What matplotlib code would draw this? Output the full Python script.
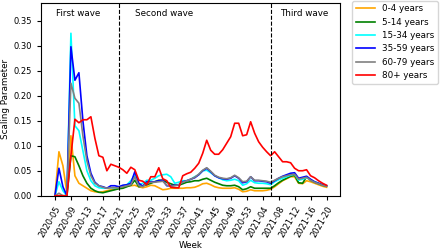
import numpy as np
import matplotlib
matplotlib.use("Agg")
import matplotlib.pyplot as plt

# weekly labels 2020-05 .. 2021-20 (2020 has 53 weeks)
weeks = [f"2020-{w:02d}" for w in range(5, 54)] + [f"2021-{w:02d}" for w in range(1, 21)]

age_0_4 = [0, 0.088, 0.06, 0.005, 0.12, 0.04, 0.025, 0.02, 0.015, 0.01,
           0.008, 0.007, 0.008, 0.01, 0.012, 0.013, 0.015, 0.016, 0.019, 0.02,
           0.021, 0.018, 0.016, 0.018, 0.021, 0.02, 0.016, 0.012, 0.013, 0.015,
           0.015, 0.015, 0.015, 0.016, 0.016, 0.017, 0.02, 0.024, 0.025, 0.022,
           0.018, 0.016, 0.015, 0.015, 0.015, 0.016, 0.013, 0.008, 0.009, 0.012,
           0.01, 0.01, 0.01, 0.011, 0.013, 0.018, 0.024, 0.03, 0.034, 0.038,
           0.038, 0.025, 0.024, 0.03, 0.028, 0.025, 0.022, 0.019, 0.017]
age_5_14 = [0, 0, 0, 0, 0.08, 0.078, 0.06, 0.04, 0.025, 0.015,
            0.01, 0.007, 0.006, 0.008, 0.01, 0.012, 0.014, 0.015, 0.018, 0.021,
            0.031, 0.018, 0.02, 0.022, 0.025, 0.028, 0.031, 0.031, 0.027, 0.024,
            0.021, 0.021, 0.024, 0.027, 0.028, 0.03, 0.03, 0.033, 0.035, 0.031,
            0.027, 0.024, 0.021, 0.02, 0.02, 0.021, 0.018, 0.012, 0.014, 0.018,
            0.015, 0.015, 0.015, 0.015, 0.015, 0.02, 0.026, 0.031, 0.035, 0.039,
            0.041, 0.026, 0.025, 0.038, 0.031, 0.027, 0.024, 0.021, 0.019]
age_15_34 = [0, 0.028, 0.01, 0, 0.325, 0.14, 0.13, 0.09, 0.05, 0.03,
             0.02, 0.016, 0.015, 0.015, 0.016, 0.016, 0.017, 0.02, 0.022, 0.03,
             0.041, 0.022, 0.025, 0.031, 0.031, 0.035, 0.04, 0.042, 0.043, 0.038,
             0.025, 0.027, 0.03, 0.03, 0.033, 0.038, 0.042, 0.05, 0.051, 0.046,
             0.04, 0.036, 0.032, 0.03, 0.031, 0.033, 0.03, 0.021, 0.024, 0.031,
             0.026, 0.025, 0.025, 0.024, 0.022, 0.028, 0.032, 0.035, 0.038, 0.041,
             0.043, 0.031, 0.033, 0.036, 0.032, 0.028, 0.025, 0.022, 0.02]
age_35_59 = [0, 0.055, 0.018, 0, 0.298, 0.231, 0.246, 0.15, 0.08, 0.045,
             0.027, 0.02, 0.018, 0.015, 0.02, 0.02, 0.018, 0.021, 0.022, 0.025,
             0.048, 0.025, 0.019, 0.028, 0.028, 0.028, 0.03, 0.031, 0.02, 0.02,
             0.021, 0.022, 0.028, 0.03, 0.033, 0.036, 0.042, 0.05, 0.055, 0.048,
             0.04, 0.036, 0.034, 0.033, 0.035, 0.04, 0.035, 0.026, 0.028, 0.038,
             0.03, 0.03, 0.029, 0.028, 0.025, 0.03, 0.035, 0.039, 0.042, 0.045,
             0.046, 0.035, 0.037, 0.039, 0.033, 0.028, 0.025, 0.022, 0.02]
age_60_79 = [0, 0.005, 0, 0, 0.225, 0.195, 0.185, 0.12, 0.07, 0.04,
             0.025, 0.02, 0.017, 0.015, 0.016, 0.016, 0.016, 0.018, 0.02, 0.022,
             0.038, 0.02, 0.018, 0.025, 0.027, 0.027, 0.028, 0.029, 0.021, 0.019,
             0.02, 0.022, 0.027, 0.03, 0.033, 0.037, 0.043, 0.051, 0.056, 0.049,
             0.041, 0.037, 0.035, 0.034, 0.036, 0.041, 0.036, 0.028, 0.029, 0.038,
             0.031, 0.031, 0.03, 0.029, 0.027, 0.031, 0.035, 0.038, 0.04, 0.042,
             0.043, 0.033, 0.035, 0.037, 0.031, 0.027, 0.024, 0.021, 0.019]
age_80 = [0, 0, 0, 0, 0.08, 0.153, 0.146, 0.152, 0.152, 0.158,
          0.115, 0.08, 0.077, 0.05, 0.063, 0.06, 0.057, 0.052, 0.045, 0.057,
          0.052, 0.031, 0.029, 0.022, 0.038, 0.038, 0.056, 0.034, 0.03, 0.017,
          0.016, 0.016, 0.04, 0.044, 0.047, 0.055, 0.065, 0.085, 0.111, 0.091,
          0.083, 0.083, 0.092, 0.105, 0.118, 0.145, 0.145, 0.12, 0.122, 0.148,
          0.125, 0.108, 0.097, 0.088, 0.08, 0.088, 0.078, 0.068, 0.068, 0.066,
          0.055, 0.05, 0.05, 0.052, 0.04, 0.036, 0.03, 0.025, 0.021]

series = [("0-4 years", age_0_4, "orange"),
          ("5-14 years", age_5_14, "green"),
          ("15-34 years", age_15_34, "cyan"),
          ("35-59 years", age_35_59, "blue"),
          ("60-79 years", age_60_79, "grey"),
          ("80+ years", age_80, "red")]

wave_starts = ["2020-21", "2021-06"]

plt.rcParams["font.size"] = 6.3
fig, ax = plt.subplots(figsize=(4.4, 2.5), dpi=100)
fig.subplots_adjust(left=0.094, right=0.773, bottom=0.217, top=0.989)

x = np.arange(len(weeks))
for label, vals, col in series:
    ax.plot(x, vals, color=col, lw=1.2, label=label)

for w in wave_starts:
    ax.axvline(weeks.index(w), color="black", ls="--", lw=0.8)

ax.text(5.7, 0.365, "First wave", ha="center", va="center")
ax.text(27.3, 0.365, "Second wave", ha="center", va="center")
ax.text(62.5, 0.365, "Third wave", ha="center", va="center")

ax.set_xticks(x[::4])
ax.set_xticklabels(weeks[::4], rotation=60, ha="right", rotation_mode="anchor")
ax.tick_params(labelsize=6, length=3)
ax.set_ylim(0, 0.386)
ax.set_xlabel("Week", labelpad=1)
ax.set_ylabel("Scaling Parameter", labelpad=3)
ax.legend(loc="upper left", bbox_to_anchor=(1.04, 1.01), borderaxespad=0,
          fontsize=6.3, handlelength=2.2)

fig.savefig("out.png", dpi=100)
